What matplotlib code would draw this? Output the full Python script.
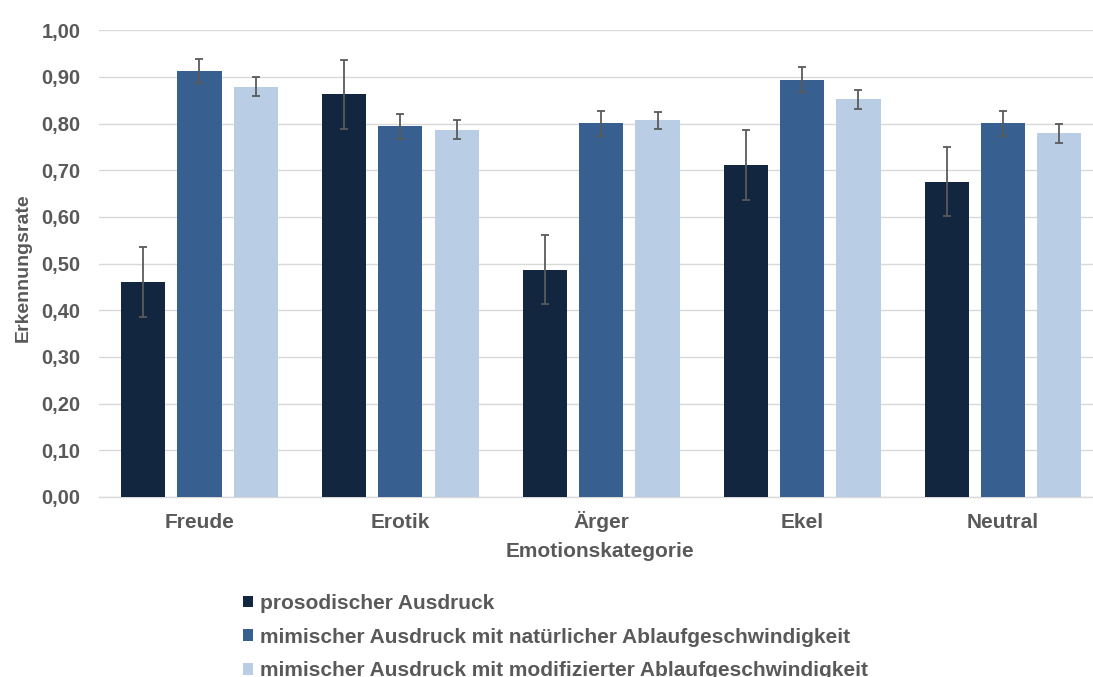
#!/usr/bin/python

#Importing modules:
import numpy as np
import matplotlib
matplotlib.use("Agg")
import matplotlib.pyplot as plt
from matplotlib.ticker import FuncFormatter

#Emotion categories and series names:
categories = ["Freude", "Erotik", "Ärger", "Ekel", "Neutral"]
seriesNames = ["prosodischer Ausdruck",
               "mimischer Ausdruck mit natürlicher Ablaufgeschwindigkeit",
               "mimischer Ausdruck mit modifizierter Ablaufgeschwindigkeit"]

#Recognition rates per series:
prosodisch = [0.461, 0.863, 0.487, 0.712, 0.676]
mimischNatuerlich = [0.913, 0.794, 0.801, 0.894, 0.801]
mimischModifiziert = [0.879, 0.787, 0.807, 0.852, 0.779]

#Error bar sizes per series:
errProsodisch = [0.075, 0.074, 0.074, 0.075, 0.074]
errNatuerlich = [0.026, 0.026, 0.027, 0.027, 0.027]
errModifiziert = [0.020, 0.020, 0.019, 0.020, 0.020]

#Colors and text settings:
colors = ["#12263f", "#375f8f", "#b9cde5"]
textColor = "#595959"
plt.rcParams['font.family'] = ['Liberation Sans', 'DejaVu Sans']
plt.rcParams['font.weight'] = 'bold'
plt.rcParams['axes.labelweight'] = 'bold'

#Creating the figure:
fig = plt.figure(figsize=(10.93, 6.77), dpi=100)
ax = fig.add_axes([0.0906, 0.2659, 0.9190, 0.6893])

x = np.arange(len(categories))
values = [prosodisch, mimischNatuerlich, mimischModifiziert]
errors = [errProsodisch, errNatuerlich, errModifiziert]
width = 0.22
offset = 0.28

#Drawing the bars with their error bars:
for i in range(3):
    ax.bar(x + (i - 1) * offset, values[i], width, color=colors[i],
           label=seriesNames[i], zorder=3,
           yerr=errors[i], capsize=3,
           error_kw=dict(ecolor="#5a5a5a", elinewidth=1.3, capthick=1.3, zorder=4))

#Axis settings:
ax.set_xlim(-0.5, len(categories) - 0.5)
ax.set_ylim(0, 1.0)
ax.set_yticks(np.arange(0, 1.01, 0.1))
ax.yaxis.set_major_formatter(FuncFormatter(lambda v, p: ("%.2f" % v).replace(".", ",")))
ax.set_xticks(x)
ax.set_xticklabels(categories, va='baseline')
ax.tick_params(axis='y', length=0, pad=13.5, labelsize=14.5, labelcolor=textColor)
ax.tick_params(axis='x', length=0, pad=22, labelsize=15, labelcolor=textColor)
ax.grid(axis='y', color="#d9d9d9", linewidth=1.0, zorder=0)
for side in ["left", "right", "top"]:
    ax.spines[side].set_visible(False)
ax.spines["bottom"].set_color("#d9d9d9")
ax.spines["bottom"].set_linewidth(1.0)

#Labels:
fig.text(600 / 1093, 1 - 557 / 677, "Emotionskategorie", fontsize=15, color=textColor,
         ha='center', va='baseline')
fig.text(0.021, 0.605, "Erkennungsrate", rotation=90, fontsize=14, color=textColor,
         ha='center', va='center')

#Legend below the chart:
leg = fig.legend(loc='upper left', bbox_to_anchor=(243 / 1093, 1 - 594 / 677), ncol=1,
                 frameon=False, fontsize=15, handlelength=0.48, handleheight=0.48,
                 handletextpad=0.34, labelspacing=0.70, borderpad=0, borderaxespad=0)
for t in leg.get_texts():
    t.set_color(textColor)

#Saving the plot:
plt.savefig("out.png", dpi=100)
